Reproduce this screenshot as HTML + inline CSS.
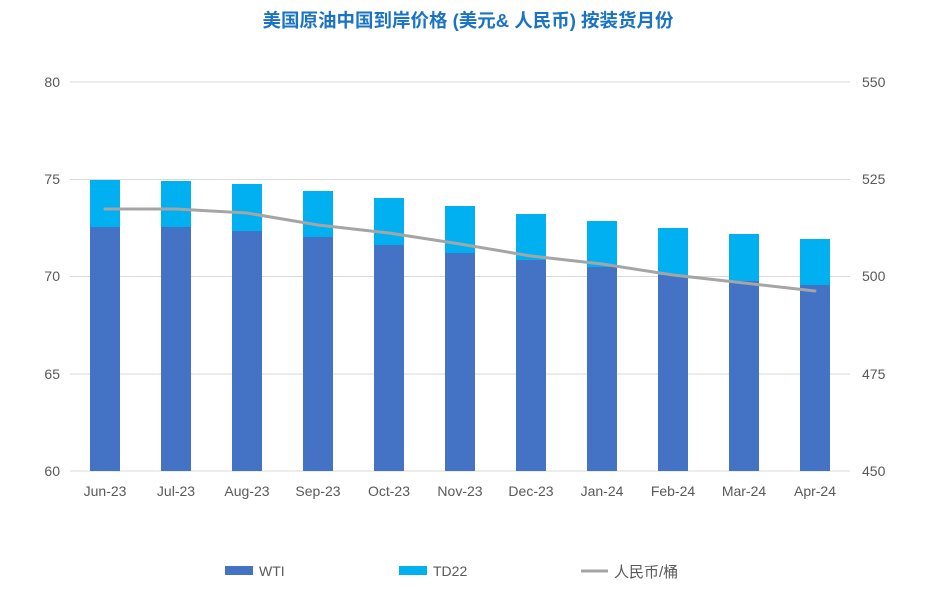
<!DOCTYPE html>
<html><head><meta charset="utf-8"><style>
body{margin:0;background:#fff;}
svg{display:block;font-family:"Liberation Sans","Noto Sans CJK SC",sans-serif;}
</style></head><body>
<svg width="937" height="601" viewBox="0 0 937 601" xmlns="http://www.w3.org/2000/svg">
<rect width="937" height="601" fill="#fff"/>
<text x="468" y="27" text-anchor="middle" font-size="18.5" font-weight="bold" fill="#1a73c4">美国原油中国到岸价格 (美元&amp; 人民币) 按装货月份</text>
<g stroke="#d9d9d9" stroke-width="1">
<line x1="70" y1="82" x2="850" y2="82"/>
<line x1="70" y1="179.5" x2="850" y2="179.5"/>
<line x1="70" y1="276.5" x2="850" y2="276.5"/>
<line x1="70" y1="374" x2="850" y2="374"/>
<line x1="70" y1="471" x2="850" y2="471"/>
</g>
<g font-size="14" fill="#595959" text-anchor="end">
<text x="60" y="87">80</text><text x="60" y="184">75</text><text x="60" y="281">70</text><text x="60" y="379">65</text><text x="60" y="476">60</text>
</g>
<g font-size="14" fill="#595959" text-anchor="start">
<text x="862" y="87">550</text><text x="862" y="184">525</text><text x="862" y="281">500</text><text x="862" y="379">475</text><text x="862" y="476">450</text>
</g>
<g id="bars">
<rect x="90" y="180" width="30" height="47" fill="#00b0f0"/><rect x="90" y="227" width="30" height="244" fill="#4472c4"/>
<rect x="161" y="181" width="30" height="46" fill="#00b0f0"/><rect x="161" y="227" width="30" height="244" fill="#4472c4"/>
<rect x="232" y="184" width="30" height="47" fill="#00b0f0"/><rect x="232" y="231" width="30" height="240" fill="#4472c4"/>
<rect x="303" y="191" width="30" height="46" fill="#00b0f0"/><rect x="303" y="237" width="30" height="234" fill="#4472c4"/>
<rect x="374" y="198" width="30" height="47" fill="#00b0f0"/><rect x="374" y="245" width="30" height="226" fill="#4472c4"/>
<rect x="445" y="206" width="30" height="47" fill="#00b0f0"/><rect x="445" y="253" width="30" height="218" fill="#4472c4"/>
<rect x="516" y="214" width="30" height="46" fill="#00b0f0"/><rect x="516" y="260" width="30" height="211" fill="#4472c4"/>
<rect x="587" y="221" width="30" height="46" fill="#00b0f0"/><rect x="587" y="267" width="30" height="204" fill="#4472c4"/>
<rect x="658" y="228" width="30" height="47" fill="#00b0f0"/><rect x="658" y="275" width="30" height="196" fill="#4472c4"/>
<rect x="729" y="234" width="30" height="47" fill="#00b0f0"/><rect x="729" y="281" width="30" height="190" fill="#4472c4"/>
<rect x="800" y="239" width="30" height="46" fill="#00b0f0"/><rect x="800" y="285" width="30" height="186" fill="#4472c4"/>
</g>
<polyline fill="none" stroke="#a5a5a5" stroke-width="3" stroke-linejoin="round" stroke-linecap="round"
points="105,209 176,209 247,213 318,225 389,233 460,244 531,256 602,264 673,275 744,283 815,291"/>
<g font-size="14" fill="#595959" text-anchor="middle">
<text x="105" y="496">Jun-23</text><text x="176" y="496">Jul-23</text><text x="247" y="496">Aug-23</text><text x="318" y="496">Sep-23</text><text x="389" y="496">Oct-23</text><text x="460" y="496">Nov-23</text><text x="531" y="496">Dec-23</text><text x="602" y="496">Jan-24</text><text x="673" y="496">Feb-24</text><text x="744" y="496">Mar-24</text><text x="815" y="496">Apr-24</text>
</g>
<rect x="225" y="566" width="28" height="9" fill="#4472c4"/>
<text x="259" y="576" font-size="14" fill="#595959">WTI</text>
<rect x="399" y="566" width="28" height="9" fill="#00b0f0"/>
<text x="433" y="576" font-size="14" fill="#595959">TD22</text>
<line x1="581" y1="571" x2="608" y2="571" stroke="#a5a5a5" stroke-width="3"/>
<text x="614" y="577" font-size="15" fill="#595959">人民币/桶</text>
</svg>
</body></html>
